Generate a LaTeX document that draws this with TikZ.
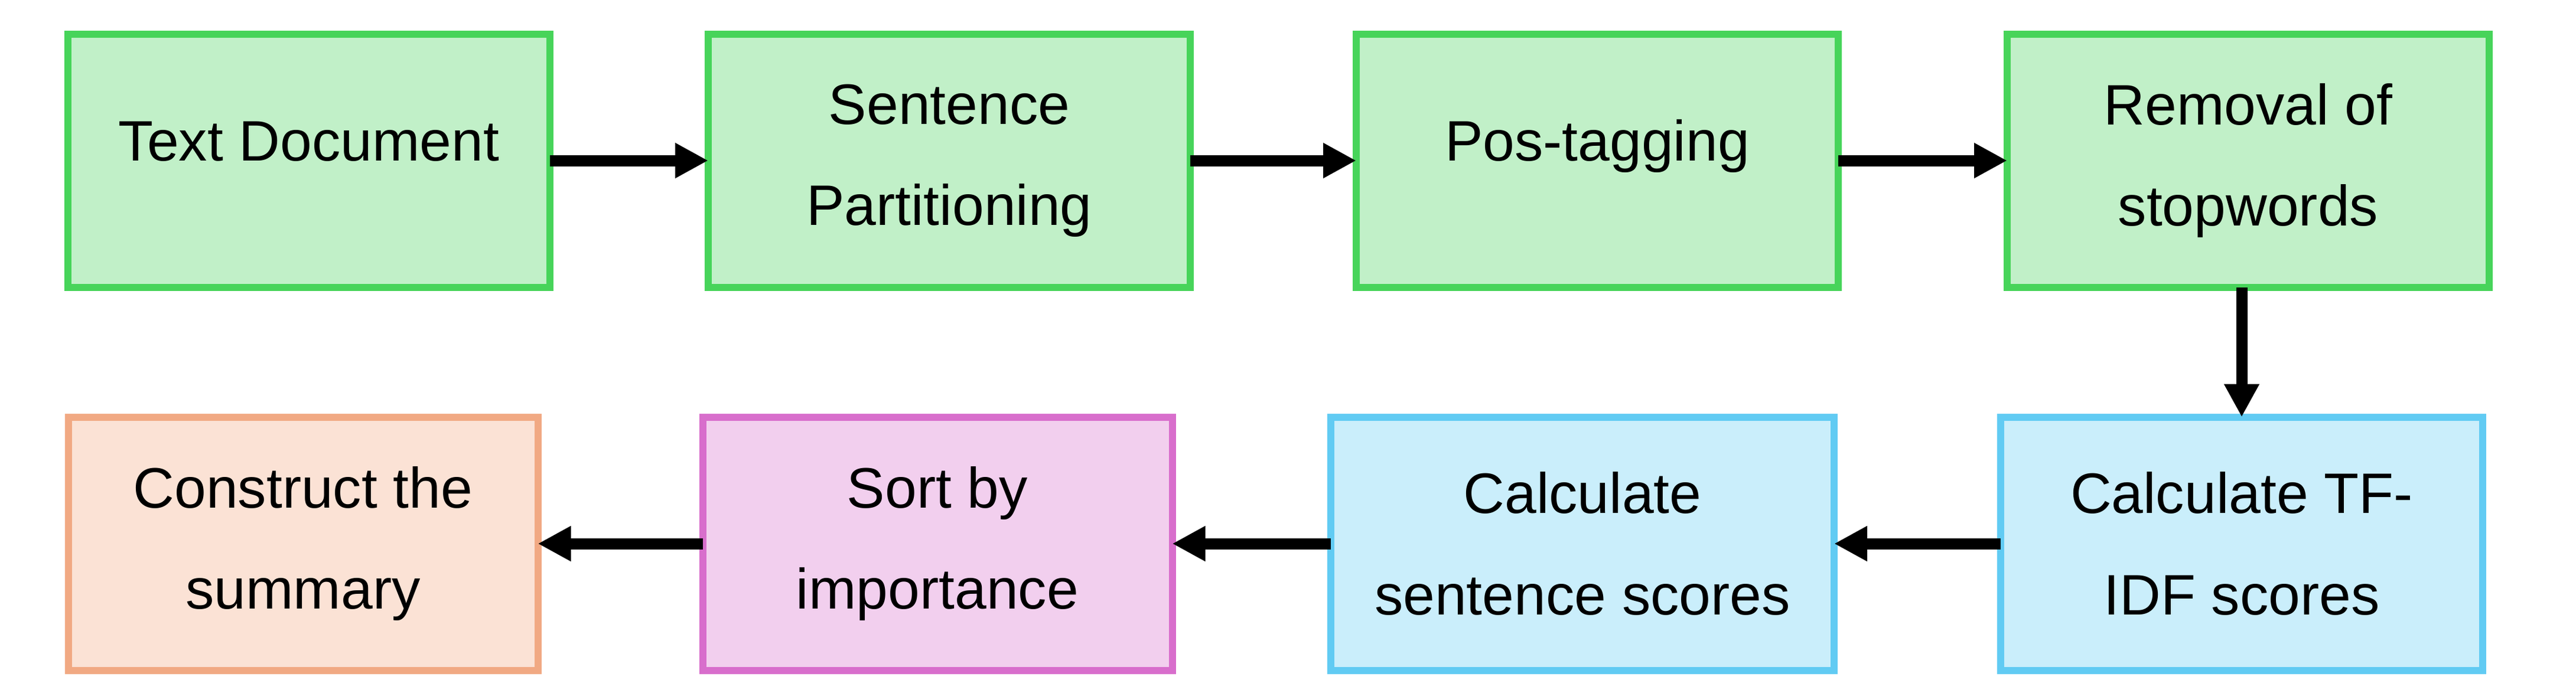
\documentclass[tikz,border=0pt]{standalone}
\usepackage{fontspec}
\setmainfont{Liberation Sans}
\usetikzlibrary{arrows.meta, positioning}

\definecolor{grnfill}{HTML}{C1F0C8}
\definecolor{grnline}{HTML}{47D45A}
\definecolor{blufill}{HTML}{CAEEFB}
\definecolor{bluline}{HTML}{61CBF3}
\definecolor{pnkfill}{HTML}{F2CFEE}
\definecolor{pnkline}{HTML}{D86ECC}
\definecolor{orgfill}{HTML}{FBE2D5}
\definecolor{orgline}{HTML}{F1A983}

\begin{document}
\begin{tikzpicture}[on grid,
		stage/.style={draw, line width=0.12cm, minimum width=8.16cm, minimum height=4.29cm,
			align=center, outer sep=0pt, font=\fontsize{27.5}{48.7}\selectfont},
		oneline/.style={text height=0.5cm, text depth=0.5cm},
		grn/.style={stage, draw=grnline, fill=grnfill},
		blu/.style={stage, draw=bluline, fill=blufill},
		pnk/.style={stage, draw=pnkline, fill=pnkfill},
		org/.style={stage, draw=orgline, fill=orgfill},
		arr/.style={line width=0.19cm, -{Triangle[length=0.56cm,width=0.56cm]}}]
		\useasboundingbox (0,0) rectangle (43.61,-11.51);
		% top row
		\node[grn, oneline] (txt) at (5.23,-2.72) {Text Document};
		\node[grn] (snt) [right=10.84cm of txt] {Sentence\\Partitioning};
		\node[grn, oneline] (pos) [right=10.97cm of snt] {Pos-tagging};
		\node[grn] (stp) [right=11.02cm of pos] {Removal of\\stopwords};
		% bottom row
		\node[blu] (tfidf) [below=6.49cm of stp, xshift=-0.11cm] {Calculate TF-\\IDF scores};
		\node[blu, minimum width=8.52cm] (scr) [left=11.16cm of tfidf] {Calculate\\sentence scores};
		\node[pnk, minimum width=7.95cm] (srt) [left=10.92cm of scr] {Sort by\\importance};
		\node[org, minimum width=7.95cm] (sum) [left=10.74cm of srt] {Construct the\\summary};
		\path[arr]
			(txt) edge (snt)
			(snt) edge (pos)
			(pos) edge (stp)
			(tfidf) edge (scr)
			(scr) edge (srt)
			(srt) edge (sum);
		\draw[arr] (stp.south -| tfidf.north) -- (tfidf.north);
	\end{tikzpicture}
\end{document}
